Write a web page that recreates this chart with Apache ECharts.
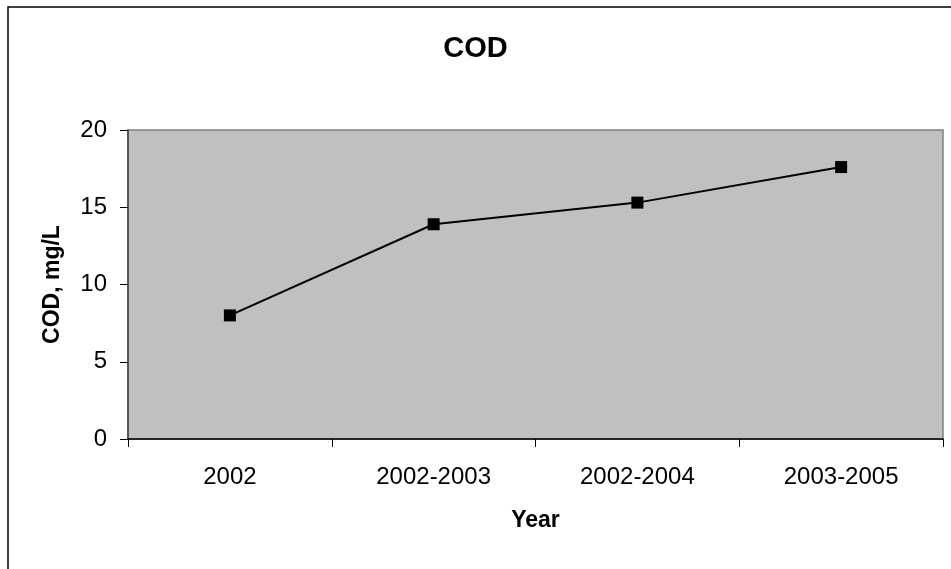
<!DOCTYPE html>
<html>
<head>
<meta charset="utf-8">
<script src="https://cdn.jsdelivr.net/npm/echarts@6/dist/echarts.min.js"></script>
<style>html,body{margin:0;padding:0;background:#fff}#c{width:951px;height:569px}</style>
</head>
<body>
<div id="c"></div>
<script>
const categories = ['2002', '2002-2003', '2002-2004', '2003-2005'];
const codValues = [8.0, 13.9, 15.3, 17.6];
const yTicks = [0, 5, 10, 15, 20];

const chart = echarts.init(document.getElementById('c'), null, {renderer: 'canvas'});
const font = 'Liberation Sans, Arial, sans-serif';
chart.setOption({
  animation: false,
  backgroundColor: '#fff',
  title: {
    text: 'COD', left: 'center', top: 29,
    textStyle: {fontFamily: font, fontSize: 29, fontWeight: 'bold', color: '#000'}
  },
  graphic: [{
    type: 'rect', shape: {x: 8, y: 7, width: 1200, height: 1200},
    style: {fill: 'none', stroke: '#000', lineWidth: 1.5}, z: 100
  }],
  grid: {
    left: 128, right: 8, top: 130, bottom: 130,
    show: true, backgroundColor: '#C0C0C0', borderColor: '#808080', borderWidth: 1.5
  },
  xAxis: {
    type: 'category', data: categories, boundaryGap: true,
    name: 'Year', nameLocation: 'middle', nameGap: 70,
    nameTextStyle: {fontFamily: font, fontSize: 23, fontWeight: 'bold', color: '#000'},
    axisLine: {lineStyle: {color: '#000', width: 1.5}},
    axisTick: {show: true, length: 8, inside: false, alignWithLabel: false, lineStyle: {color: '#000'}},
    axisLabel: {fontFamily: font, fontSize: 24, color: '#000', margin: 26}
  },
  yAxis: {
    type: 'value', min: yTicks[0], max: yTicks[yTicks.length - 1], interval: 5,
    name: 'COD, mg/L', nameLocation: 'middle', nameGap: 64, nameRotate: 90,
    nameTextStyle: {fontFamily: font, fontSize: 23, fontWeight: 'bold', color: '#000'},
    axisLine: {show: true, lineStyle: {color: '#404040', width: 1.5}},
    axisTick: {show: true, length: 8, lineStyle: {color: '#000'}},
    axisLabel: {fontFamily: font, fontSize: 24, color: '#000', margin: 21},
    splitLine: {show: false}
  },
  series: [{
    type: 'line', data: codValues,
    symbol: 'rect', symbolSize: 12,
    itemStyle: {color: '#000'},
    lineStyle: {color: '#000', width: 2}
  }]
});
</script>
</body>
</html>
